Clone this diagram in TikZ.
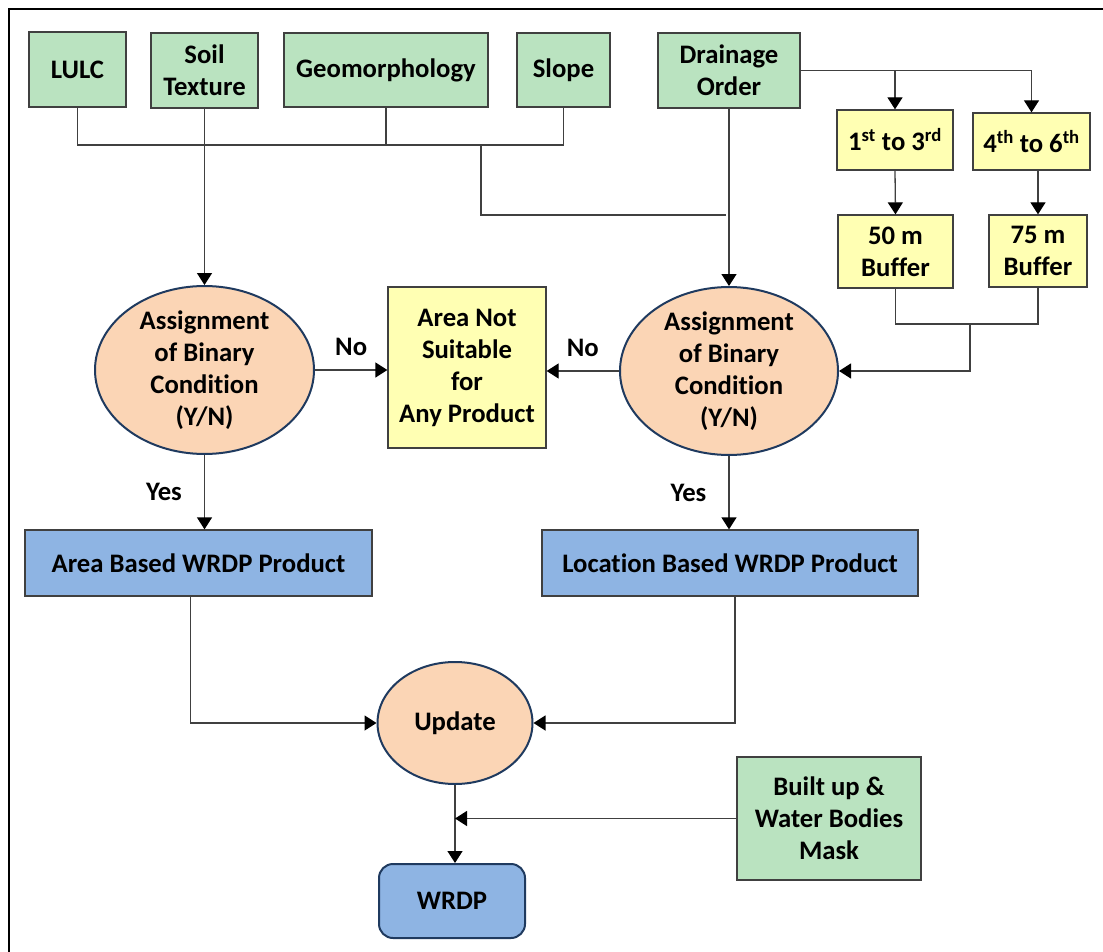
\documentclass[tikz,border=0pt]{standalone}
\usepackage{fontspec}
\setmainfont{Carlito}[Ligatures=NoCommon]
\usetikzlibrary{arrows.meta,shapes.geometric}

\definecolor{boxgreen}{HTML}{BAE3C0}
\definecolor{boxyellow}{HTML}{FFFFB3}
\definecolor{boxblue}{HTML}{8EB4E3}
\definecolor{ellpeach}{HTML}{FBD5B5}
\definecolor{edgenavy}{HTML}{1F3A5F}
\definecolor{linegray}{HTML}{404040}

\begin{document}
\begin{tikzpicture}[x=1pt, y=-1pt, >={Triangle[width=15pt,length=12pt,color=black]},
  font=\fontsize{26.7}{32}\selectfont\bfseries,
  every node/.style={align=center, inner sep=0pt},
  greenbox/.style={draw=linegray, line width=1.3pt, fill=boxgreen},
  yellowbox/.style={draw=linegray, line width=1.3pt, fill=boxyellow},
  bluebox/.style={draw=linegray, line width=1.3pt, fill=boxblue},
  peachell/.style={ellipse, draw=edgenavy, line width=2pt, fill=ellpeach},
  link/.style={draw=linegray, line width=1.3pt}]

\useasboundingbox (0,0) rectangle (1103,952);

% Frame
\draw[line width=2pt] (9,952) -- (9,9) -- (1103,9);

% Input layers
\node[greenbox, minimum width=97, minimum height=75] (lulc) at (77.5,69.5) {LULC};
\node[greenbox, minimum width=107, minimum height=75] (soil) at (204.5,70.5) {Soil\\Texture};
\node[greenbox, minimum width=204, minimum height=74] (geo) at (386,70) {Geomorphology};
\node[greenbox, minimum width=93, minimum height=74] (slope) at (563.5,70) {Slope};
\node[greenbox, minimum width=142, minimum height=75] (drain) at (729,70.5) {Drainage\\Order};

% Stream orders and buffers
\node[yellowbox, minimum width=116, minimum height=60] (first) at (895,140) {1\textsuperscript{st} to 3\textsuperscript{rd}};
\node[yellowbox, minimum width=117, minimum height=57] (fourth) at (1031.5,141.5) {4\textsuperscript{th} to 6\textsuperscript{th}};
\node[yellowbox, minimum width=115, minimum height=73] (buf50) at (895.5,251.5) {50 m\\Buffer};
\node[yellowbox, minimum width=98, minimum height=72] (buf75) at (1038,251) {75 m\\Buffer};

% Binary conditions
\node[peachell, minimum width=219, minimum height=164] (leftell) at (204.5,370) {Assignment\\of Binary\\Condition\\(Y/N)};
\node[peachell, minimum width=218, minimum height=166] (rightell) at (729,371) {Assignment\\of Binary\\Condition\\(Y/N)};
\node[yellowbox, minimum width=158, minimum height=161] (nobox) at (467,367.5) {Area Not\\Suitable\\for\\Any Product};

% Products
\node[bluebox, minimum width=347, minimum height=66] (areabox) at (198.5,563) {Area Based WRDP Product};
\node[bluebox, minimum width=376, minimum height=66] (locbox) at (730,563) {Location Based WRDP Product};
\node[peachell, minimum width=155, minimum height=122] (update) at (455,723) {Update};
\node[greenbox, minimum width=184, minimum height=123] (mask) at (829,818.5) {Built up \&\\Water Bodies\\Mask};
\node[bluebox, draw=edgenavy, line width=2pt, rounded corners=14pt, minimum width=146, minimum height=74] (wrdp) at (452,901) {WRDP};

% Layer bus
\coordinate (join) at (481,145);
\coordinate (feed) at (726,215);
\draw[link] (lulc.south) -- (lulc.south |- join) -- (slope.south |- join) -- (slope.south);
\draw[link] (geo.south) -- (geo.south |- join);
\draw[link] (join) |- (feed);
\draw[link,->] (soil.south) -- (leftell.north);
\draw[link,->] (drain.south) -- (rightell.north);

% Drainage branches
\draw[link,->] (drain.east) -| (first.north);
\draw[link,->] (drain.east) -| (fourth.north);
\draw[link,->] (first.south) -- (buf50.north);
\draw[link,->] (buf75.north |- fourth.south) -- (buf75.north);
\coordinate (merge) at (970,324);
\draw[link] (buf50.south) |- (merge) -| (buf75.south);
\draw[link,->] (merge) |- (rightell.east);

% Decisions
\draw[link,->] (leftell.east) -- (nobox.west |- leftell.east) node[midway, above=14pt] {No};
\draw[link,->] (rightell.west) -- (nobox.east |- rightell.west) node[midway, above=14pt] {No};
\draw[link,->] (leftell.south) -- (leftell.south |- areabox.north) node[midway, left=22pt] {Yes};
\draw[link,->] (rightell.south) -- (rightell.south |- locbox.north) node[midway, left=22pt] {Yes};

% Update and mask
\draw[link,->] ([xshift=-8pt]areabox.south) |- (update.west);
\draw[link,->] ([xshift=5pt]locbox.south) |- (update.east);
\draw[link,->] (update.south) -- (wrdp.north -| update.south);
\draw[link,->] (mask.west) -- (mask.west -| update.south);

\end{tikzpicture}
\end{document}
